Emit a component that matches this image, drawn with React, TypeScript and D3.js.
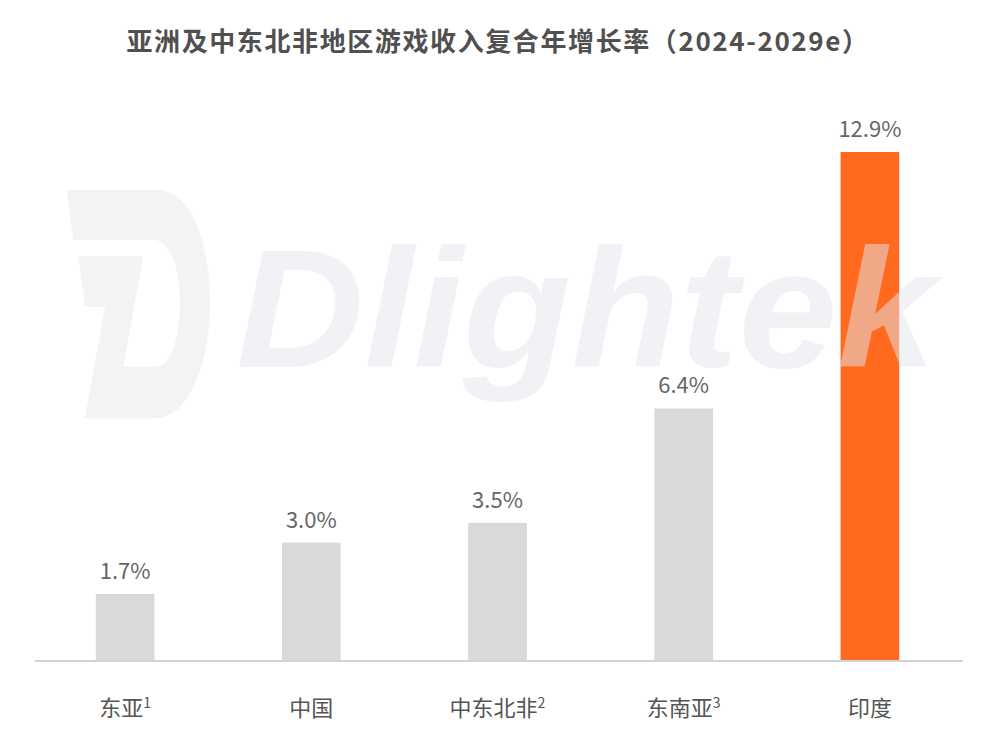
import React, { useEffect, useRef } from "react";
import * as d3 from "d3";

const categories = ["东亚", "中国", "中东北非", "东南亚", "印度"];
const footnotes = ["1", "", "2", "3", ""];
const values = [1.7, 3.0, 3.5, 6.4, 12.9];
const highlight = [false, false, false, false, true];
const title = "亚洲及中东北非地区游戏收入复合年增长率（2024-2029e）";

const W = 999,
  H = 734;

function drawChart(container: HTMLDivElement) {
  const baseY = 661,
    topY = 152;
  const grey = "#d9d9d9",
    orange = "#ff6a1f",
    textColor = "#666666",
    font = "'Noto Sans CJK SC', 'Noto Sans', sans-serif";

  d3.select(container).selectAll("svg").remove();
  const svg = d3
    .select(container)
    .append("svg")
    .attr("width", W)
    .attr("height", H)
    .style("display", "block")
    .style("background", "#ffffff");

  const x = d3
    .scaleBand<string>()
    .domain(categories)
    .range([32, 963])
    .paddingInner(0.685)
    .paddingOuter(0.3425);

  const y = d3
    .scaleLinear()
    .domain([0, d3.max(values) as number])
    .range([baseY, topY]);

  // title
  svg
    .append("text")
    .attr("x", 498)
    .attr("y", 51)
    .attr("text-anchor", "middle")
    .style("font-family", font)
    .style("font-weight", "700")
    .style("font-size", "26px")
    .style("letter-spacing", "1.6px")
    .style("fill", "#505050")
    .text(title);

  // bars
  svg
    .append("g")
    .selectAll("rect")
    .data(values)
    .join("rect")
    .attr("x", (d, i) => x(categories[i]) as number)
    .attr("y", (d) => y(d))
    .attr("width", x.bandwidth())
    .attr("height", (d) => baseY - y(d))
    .style("fill", (d, i) => (highlight[i] ? orange : grey));

  // baseline
  svg
    .append("line")
    .attr("x1", 35)
    .attr("x2", 963)
    .attr("y1", baseY)
    .attr("y2", baseY)
    .style("stroke", "#d4d4d4")
    .style("stroke-width", "2px");

  // value labels
  svg
    .append("g")
    .selectAll("text")
    .data(values)
    .join("text")
    .attr("x", (d, i) => (x(categories[i]) as number) + x.bandwidth() / 2)
    .attr("y", (d) => y(d) - 15)
    .attr("text-anchor", "middle")
    .style("font-family", font)
    .style("font-size", "22px")
    .style("fill", textColor)
    .text((d) => d.toFixed(1) + "%");

  // category labels with footnote marks
  const labels = svg
    .append("g")
    .selectAll("text")
    .data(categories)
    .join("text")
    .attr("x", (d) => (x(d) as number) + x.bandwidth() / 2)
    .attr("y", 716)
    .attr("text-anchor", "middle")
    .style("font-family", font)
    .style("font-size", "22px")
    .style("fill", "#555555");
  labels.append("tspan").text((d) => d);
  labels
    .append("tspan")
    .attr("dy", -8)
    .style("font-size", "14px")
    .text((d, i) => footnotes[i]);

  // watermark
  const wm = svg.append("g").style("pointer-events", "none");
  wm.append("path")
    .attr(
      "d",
      "M66.7,190 L156.7,190 C193.3,190 210,246.7 210,303.3 C210,366.7 186.7,418.3 156.7,418.3 " +
        "L85,418.3 L105,306.7 L85,306.7 L78.3,256 L143.3,256 L123.3,366.7 L156.7,366.7 " +
        "C173.3,366.7 180,330 180,303.3 C180,266.7 170,240 153.3,240 L73.3,240 Z"
    )
    .style("fill", "#e4e7ec")
    .style("opacity", 0.5);
  wm.append("text")
    .attr("x", 236)
    .attr("y", 367)
    .attr("textLength", 700)
    .attr("lengthAdjust", "spacingAndGlyphs")
    .style("font-family", "'Liberation Sans', Arial, sans-serif")
    .style("font-weight", "700")
    .style("font-style", "italic")
    .style("font-size", "168px")
    .style("fill", "#e4e7ec")
    .style("opacity", 0.5)
    .text("Dlightek");
}

export default function App() {
  const ref = useRef<HTMLDivElement>(null);
  useEffect(() => {
    document.body.style.margin = "0";
    if (ref.current) drawChart(ref.current);
  }, []);
  return <div ref={ref} />;
}
